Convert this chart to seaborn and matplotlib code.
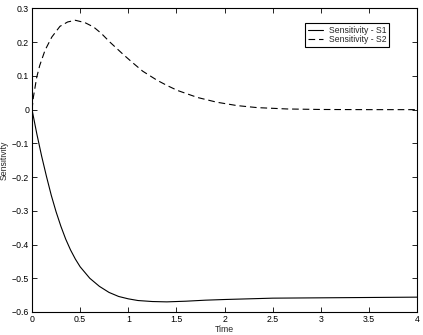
import numpy as np
import pandas as pd
import matplotlib
matplotlib.use('Agg')
import matplotlib.pyplot as plt
from matplotlib.ticker import FuncFormatter
import seaborn as sns

# values
t_s1 = [0, 0.05, 0.1, 0.15, 0.2, 0.25, 0.3, 0.35, 0.4, 0.45, 0.5, 0.6, 0.7,
        0.8, 0.9, 1.0, 1.1, 1.25, 1.4, 1.6, 1.8, 2.0, 2.25, 2.5, 3.0, 3.5, 4.0]
s1 = [0, -0.072, -0.138, -0.198, -0.254, -0.303, -0.346, -0.384, -0.416,
      -0.443, -0.466, -0.500, -0.524, -0.542, -0.554, -0.561, -0.566, -0.569,
      -0.570, -0.568, -0.565, -0.563, -0.561, -0.559, -0.558, -0.557, -0.556]

t_s2 = [0, 0.014, 0.049, 0.08, 0.135, 0.205, 0.29, 0.37, 0.45, 0.55, 0.64, 0.72,
        0.81, 0.95, 1.05, 1.15, 1.3, 1.4, 1.51, 1.72, 1.92, 2.13, 2.34, 2.65,
        3.0, 3.5, 4.0]
s2 = [0, 0.037, 0.096, 0.131, 0.176, 0.215, 0.247, 0.26, 0.265, 0.258, 0.245,
      0.226, 0.2, 0.163, 0.138, 0.114, 0.087, 0.072, 0.057, 0.036, 0.022, 0.012,
      0.006, 0.002, 0.0005, 0.0, 0.0]

labels = ['Sensitivity - S1', 'Sensitivity - S2']
x_ticks = [0, 0.5, 1, 1.5, 2, 2.5, 3, 3.5, 4]
y_ticks = [-0.6, -0.5, -0.4, -0.3, -0.2, -0.1, 0, 0.1, 0.2, 0.3]

df = pd.concat([
    pd.DataFrame({'Time': t_s1, 'Sensitivity': s1, 'series': labels[0]}),
    pd.DataFrame({'Time': t_s2, 'Sensitivity': s2, 'series': labels[1]}),
])

sns.set_style('ticks')
plt.rcParams['font.family'] = ['Liberation Sans', 'DejaVu Sans']
plt.rcParams['font.size'] = 6.3

fig = plt.figure(figsize=(4.23, 3.35), dpi=100)
ax = fig.add_axes([0.0757, 0.0687, 0.9103, 0.906])

sns.lineplot(data=df, x='Time', y='Sensitivity', hue='series', style='series',
             palette=['black', 'black'], dashes={labels[0]: '', labels[1]: (6, 3.5)},
             linewidth=0.8, ax=ax, sort=False)

ax.set_xlim(0, 4)
ax.set_ylim(-0.6, 0.3)
ax.set_xticks(x_ticks)
ax.set_yticks(y_ticks)
fmt = FuncFormatter(lambda v, p: ('%g' % round(v, 2)).replace('-', '\u2212'))
ax.xaxis.set_major_formatter(fmt)
ax.yaxis.set_major_formatter(fmt)
ax.tick_params(direction='in', length=3.5, width=0.6, top=True, right=True,
               labelsize=6.3, pad=2, colors='black')
for sp in ax.spines.values():
    sp.set_visible(True)
    sp.set_linewidth(0.8)
    sp.set_color('black')
ax.set_xlabel('Time', fontsize=6.3, labelpad=1)
ax.set_ylabel('Sensitivity', fontsize=6.3)
ax.yaxis.set_label_coords(-0.06, 0.5)

leg = ax.legend(loc='upper right', bbox_to_anchor=(0.928, 0.953), fontsize=6.2,
                frameon=True, fancybox=False, handlelength=1.75,
                borderpad=0.35, labelspacing=0.05, handletextpad=0.7,
                borderaxespad=0)
leg.get_frame().set_edgecolor('black')
leg.get_frame().set_linewidth(0.8)
leg.get_frame().set_alpha(1)

fig.savefig('out.png', dpi=100)
